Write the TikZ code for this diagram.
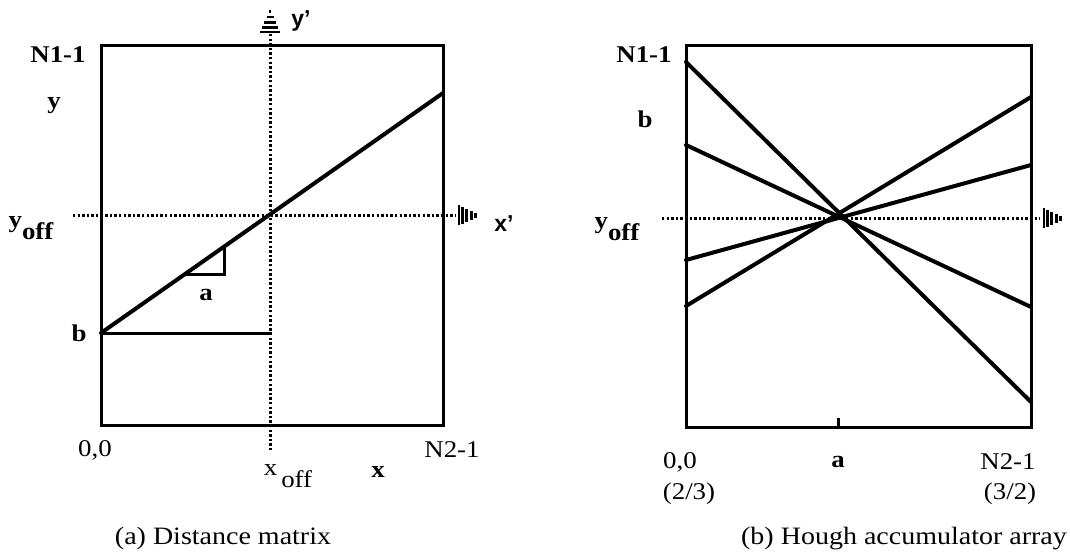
\documentclass[tikz,border=0pt]{standalone}
\usepackage{fontspec}
\setmainfont{Liberation Serif}[FakeStretch=1.12]
\setsansfont{Liberation Sans}
\newfontfamily\capfont{Liberation Serif}[FakeStretch=1.12]
\usetikzlibrary{calc}
\begin{document}
\begin{tikzpicture}[x=1pt,y=-1pt,
  frame/.style={line width=3pt, line cap=rect},
  heavy/.style={line width=4pt, line cap=round},
  dotline/.style={line width=3pt, dash pattern=on 2.4pt off 2.2pt},
  stripe/.style={line width=2.8pt},
  lbl/.style={font=\fontsize{24}{26}\selectfont, inner sep=0pt},
  blbl/.style={font=\fontsize{24}{26}\selectfont\bfseries, inner sep=0pt},
  slbl/.style={font=\fontsize{23}{25}\selectfont\sffamily\bfseries, inner sep=0pt},
  captxt/.style={font=\fontsize{25}{30}\selectfont\capfont, inner sep=0pt}]
\useasboundingbox (0,0) rectangle (1070,559);
\newcommand{\offsub}[1]{#1\raisebox{-0.5em}{off}}
% ---------------- left panel ----------------
\coordinate (A00) at (101,425);
\coordinate (A11) at (443,46);
\coordinate (B) at (101,333);
\coordinate (E) at (443,93);
\coordinate (Bx) at (270,333);
\coordinate (T1) at (185,274);
\coordinate (T2) at (224,274);
\coordinate (T3) at (224,247);
\coordinate (VTop) at (270,34);
\coordinate (VBot) at (270,452);
\coordinate (HL) at (73,215);
\coordinate (HR) at (455,215);
\coordinate (UpTip) at (270,9);
\coordinate (RBase) at (459,215);
\draw[frame] (A00) rectangle (A11);
\draw[dotline] (VTop) -- (VBot);
\draw[dotline] (HL) -- (HR);
\draw[heavy] (B) -- (E);
\draw[frame] (B) -- (Bx);
\draw[line width=3pt] (T1) -- (T2) -- (T3);
\foreach \t in {0.12,0.35,0.57,0.79,1.0}
  \draw[stripe] ($(UpTip)+(-10*\t,23*\t)$) -- ++(20*\t,0);
\foreach \t in {0.25,0.45,0.65,0.85,1.0}
  \draw[stripe] ($(RBase)+(22-22*\t,-10*\t)$) -- ++(0,20*\t);
\node[blbl] (n11a) at (58,55) {N1-1};
\node[blbl] (ya) at (54,106) {y};
\node[blbl] (yoffa) at (31,228) {\offsub{y}};
\node[blbl] (ba) at (79,333) {b};
\node[blbl] (aa) at (206,295) {a};
\node[lbl] (zeroa) at (95,450) {0,0};
\node[lbl] (xoffa) at (288,476) {x\,\offsub{}};
\node[blbl] (xa) at (378,472) {x};
\node[lbl] (n21a) at (452,450) {N2-1};
\node[slbl] (yp) at (301,21) {y'};
\node[slbl] (xp) at (504,224) {x'};
\node[captxt] (capa) at (223,538) {(a) Distance matrix};
% ---------------- right panel ----------------
\coordinate (C00) at (686,427);
\coordinate (C11) at (1031,46);
\coordinate (L1a) at (686,62);   \coordinate (L1b) at (1031,402);
\coordinate (L2a) at (686,145);  \coordinate (L2b) at (1031,307);
\coordinate (L3a) at (686,260);  \coordinate (L3b) at (1031,165);
\coordinate (L4a) at (686,306);  \coordinate (L4b) at (1031,97);
\coordinate (HL2) at (662,218);
\coordinate (HR2) at (1040,218);
\coordinate (RBase2) at (1044,218);
\coordinate (TickB) at (838,427);
\coordinate (TickT) at (838,418);
\draw[frame] (C00) rectangle (C11);
\draw[dotline] (HL2) -- (HR2);
\draw[heavy] (L1a) -- (L1b);
\draw[heavy] (L2a) -- (L2b);
\draw[heavy] (L3a) -- (L3b);
\draw[heavy] (L4a) -- (L4b);
\draw[line width=3pt] (TickB) -- (TickT);
\foreach \t in {0.25,0.45,0.65,0.85,1.0}
  \draw[stripe] ($(RBase2)+(22-22*\t,-10*\t)$) -- ++(0,20*\t);
\node[blbl] (n11b) at (644,55) {N1-1};
\node[blbl] (bb) at (645,119) {b};
\node[blbl] (yoffb) at (617,229) {\offsub{y}};
\node[lbl] (zerob) at (680,462) {0,0};
\node[blbl] (ab) at (838,462) {a};
\node[lbl] (n21b) at (1008,462) {N2-1};
\node[lbl] (q1) at (689,494) {(2/3)};
\node[lbl] (q2) at (1010,494) {(3/2)};
\node[captxt] (capb) at (904,539) {(b) Hough accumulator array};
\end{tikzpicture}
\end{document}
